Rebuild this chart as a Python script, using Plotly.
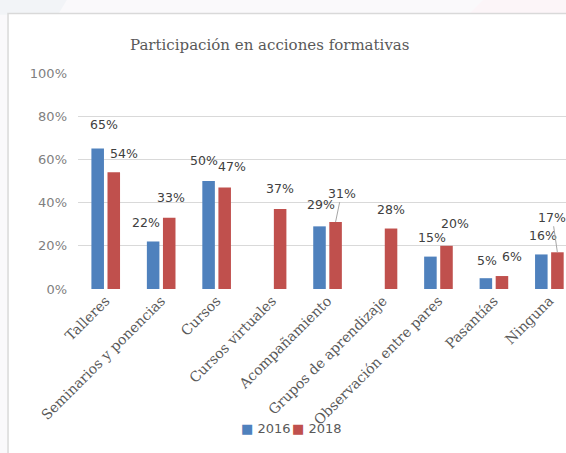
import plotly.graph_objects as go

# Categories and values (percent of respondents)
categories = [
    "Talleres", "Seminarios y ponencias", "Cursos", "Cursos virtuales",
    "Acompañamiento", "Grupos de aprendizaje", "Observación entre pares",
    "Pasantías", "Ninguna",
]
values_2016 = [65, 22, 50, None, 29, None, 15, 5, 16]
values_2018 = [54, 33, 47, 37, 31, 28, 20, 6, 17]
y_ticks = [0, 20, 40, 60, 80, 100]

COLOR_2016 = "#4f81bd"
COLOR_2018 = "#c0504d"
TEXT = "#595959"
LABEL = "#404040"

# Label placement offsets in pixels (relative to the group centre / bar top)
dx_2016 = [-2, -15, -13, 0, -7, 0, -6, -7, -6]
dy_2016 = [24, 19, 21, 0, 22, 0, 19, 18, 19]
dx_2018 = [18, 10, 15, 8, 14, 8, 17, 18, 3]
dy_2018 = [19, 20, 21, 21, 29, 19, 22, 20, 35]
leader_2018 = [False, False, False, False, True, False, False, False, True]

LABEL_FONT = dict(family="DejaVu Sans", size=12.5, color=LABEL)

fig = go.Figure()
fig.add_bar(x=categories, y=[None if v is None else v / 100 for v in values_2016],
            name="2016", marker_color=COLOR_2016, marker_line_width=0)
fig.add_bar(x=categories, y=[v / 100 for v in values_2018],
            name="2018", marker_color=COLOR_2018, marker_line_width=0)

annotations = []
for i, v in enumerate(values_2016):
    if v is None:
        continue
    annotations.append(dict(x=categories[i], y=v / 100, xref="x", yref="y",
                            text=f"{v}%", showarrow=False, xshift=dx_2016[i],
                            yshift=dy_2016[i], yanchor="middle", font=LABEL_FONT))
for i, v in enumerate(values_2018):
    if leader_2018[i]:
        annotations.append(dict(x=categories[i], y=v / 100, xref="x", yref="y",
                                text=f"{v}%", showarrow=True, arrowhead=0,
                                arrowwidth=1, arrowcolor="#a6a6a6", standoff=0,
                                xshift=8, ax=dx_2018[i] - 8, ay=-dy_2018[i],
                                font=LABEL_FONT))
    else:
        annotations.append(dict(x=categories[i], y=v / 100, xref="x", yref="y",
                                text=f"{v}%", showarrow=False, xshift=dx_2018[i],
                                yshift=dy_2018[i], yanchor="middle", font=LABEL_FONT))

# Title
annotations.append(dict(x=0.393, y=1.13, xref="paper", yref="paper",
                        text="Participación en acciones formativas", showarrow=False,
                        xanchor="center", yanchor="middle",
                        font=dict(family="DejaVu Serif", size=15, color=TEXT)))

# Legend drawn as text entries
annotations.append(dict(x=0.385, y=-0.645, xref="paper", yref="paper",
                        text=f"<span style='color:{COLOR_2016}'>■</span> 2016",
                        showarrow=False, xanchor="center", yanchor="middle",
                        font=dict(family="DejaVu Sans", size=13, color=TEXT)))
annotations.append(dict(x=0.49, y=-0.645, xref="paper", yref="paper",
                        text=f"<span style='color:{COLOR_2018}'>■</span> 2018",
                        showarrow=False, xanchor="center", yanchor="middle",
                        font=dict(family="DejaVu Sans", size=13, color=TEXT)))

shapes = [
    # faint page background tints
    dict(type="path", xref="paper", yref="paper", layer="below",
         path="M -0.17 1.36 L -0.017 1.36 L -0.041 1.27 L -0.17 1.27 Z",
         fillcolor="#f2f4f7", line_width=0),
    dict(type="path", xref="paper", yref="paper", layer="below",
         path="M 0.80 1.27 L 0.84 1.36 L 1.05 1.36 L 1.05 1.27 Z",
         fillcolor="#fcf5f8", line_width=0),
    # white chart panel with light border
    dict(type="rect", xref="paper", yref="paper", layer="below",
         x0=-0.1434, x1=1.1, y0=-0.8, y1=1.276,
         fillcolor="white", line=dict(color="#d9d9d9", width=1.5)),
]

fig.update_layout(
    width=566, height=453,
    margin=dict(l=78, r=0, t=72.5, b=163.5),
    paper_bgcolor="#faf9fb", plot_bgcolor="white",
    barmode="group", bargap=0.42, bargroupgap=0.22,
    showlegend=False,
    annotations=annotations, shapes=shapes,
    xaxis=dict(range=[-0.5, 8.3], tickangle=-45, showgrid=False, showline=False,
               ticks="", tickfont=dict(family="DejaVu Serif", size=14, color=TEXT)),
    yaxis=dict(range=[0, 1], tickvals=[t / 100 for t in y_ticks],
               ticktext=[f"{t}%" for t in y_ticks], gridcolor="#d9d9d9",
               gridwidth=1, zeroline=False, showline=False, ticks="",
               ticklabelstandoff=10,
               tickfont=dict(family="DejaVu Sans", size=13, color="#7f7f7f")),
)

fig.write_html("out.html")
